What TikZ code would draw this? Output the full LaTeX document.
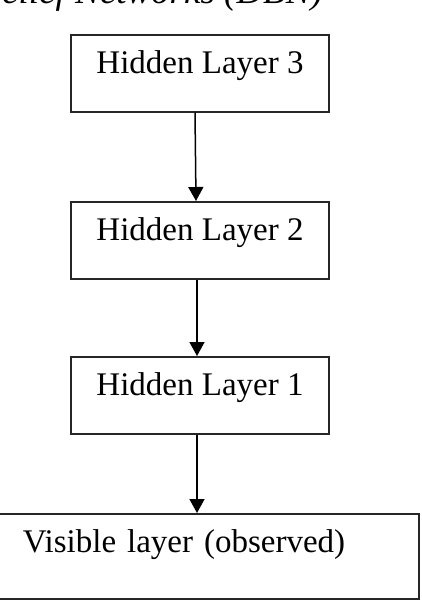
\documentclass[tikz,border=0pt]{standalone}
\usepackage{fontspec}
\setmainfont{Liberation Serif}
\usepackage{tikz}
\usetikzlibrary{positioning, arrows.meta}
\tikzset{
  layer/.style={rectangle, draw=black!85, line width=1.6pt, minimum width=258pt,
                inner sep=0pt, text height=39pt, text depth=38pt,
                font=\fontsize{33}{36}\selectfont},
  arr/.style={-{Triangle[length=14pt, width=15pt]}, line width=1.5pt},
}
\begin{document}
\begin{tikzpicture}[x=1pt, y=-1pt]

  %% === Canvas: fix the page and cut the picture to it ===
  \useasboundingbox (0,0) rectangle (421,601);
  \clip (0,0) rectangle (421,601);

  % Title, mostly cut off at the top
  \node[anchor=base east, inner sep=0pt, font=\fontsize{37}{40}\selectfont\itshape]
    at (323,4) (title) {Deep Belief Networks (DBN)};

  % Hidden layers, top to bottom
  \node[layer, anchor=north] at (200,34) (h3) {Hidden Layer 3};
  \node[layer, anchor=north] at (200,201) (h2) {Hidden Layer 2};
  \node[layer, anchor=north] at (200,356) (h1) {Hidden Layer 1};

  % Visible layer (wider, text to the left)
  \node[layer, anchor=north west, text width=371pt, inner xsep=25pt, align=left,
        text depth=46pt] at (-3,513) (vis) {Visible layer (observed)};

  % Arrows down the stack
  \draw[arr] ([xshift=-5pt]h3.south) -- ([xshift=-4pt]h2.north);
  \draw[arr] ([xshift=-3pt]h2.south) -- ([xshift=-3pt]h1.north);
  \draw[arr] ([xshift=-3pt]h1.south) -- ([xshift=-3pt]h1.south |- vis.north);

\end{tikzpicture}
\end{document}
